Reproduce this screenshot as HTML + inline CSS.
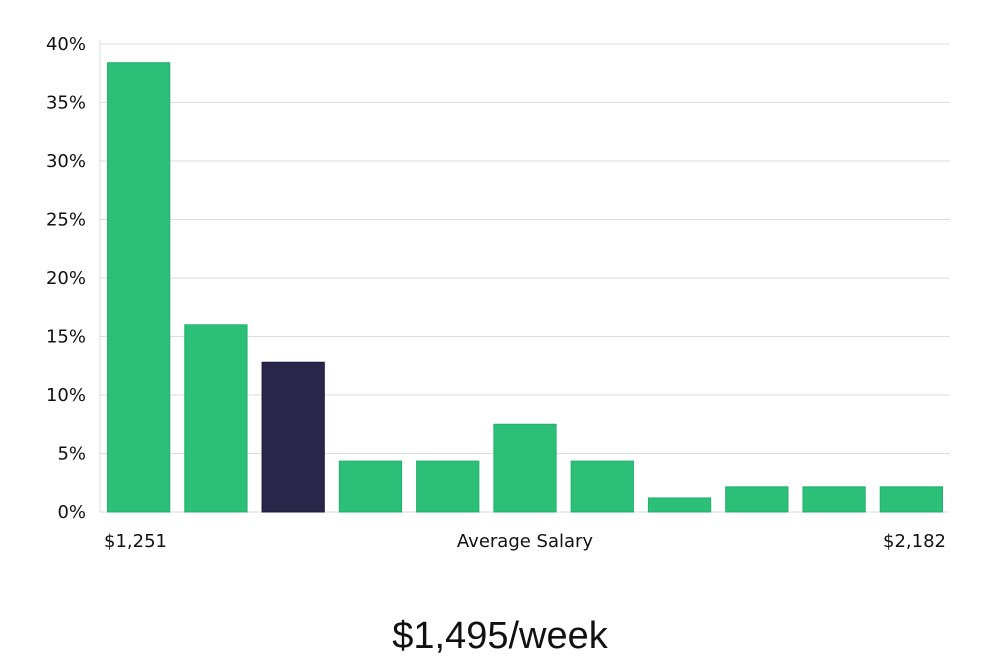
<!DOCTYPE html>
<html><head><meta charset="utf-8"><style>
body{margin:0;background:#fff;width:1000px;height:660px;overflow:hidden}
svg text{font-family:"DejaVu Sans","Liberation Sans",sans-serif;fill:#111}
</style></head><body>
<svg id="chart" width="1000" height="660" xmlns="http://www.w3.org/2000/svg">
<g id="grid"></g>
<g id="bars"></g>
<g id="yticks"></g>
<line x1="100" y1="40" x2="100" y2="512" stroke="#ddd"/>
<text x="104" y="547" font-size="18">$1,251</text>
<text x="525" y="547" font-size="18" text-anchor="middle">Average Salary</text>
<text x="946" y="547" font-size="18" text-anchor="end">$2,182</text>
<text x="500" y="648" font-size="38" text-anchor="middle" style="font-family:'Liberation Sans','DejaVu Sans',sans-serif">$1,495/week</text>
</svg>
<script>
const categories=["b1","b2","b3","b4","b5","b6","b7","b8","b9","b10","b11"];
const values=[38.4,16.0,12.8,4.35,4.35,7.5,4.35,1.2,2.15,2.15,2.15];
const highlight=[2];
const yTicks=[0,5,10,15,20,25,30,35,40];
const NS="http://www.w3.org/2000/svg";
const x0=100,x1=950,y0=512,y1=44,yMax=40;
const y=v=>y0-(v/yMax)*(y0-y1);
const band=(x1-x0)/categories.length;
const x=i=>x0+i*band;
const grid=document.getElementById('grid'),yt=document.getElementById('yticks'),bars=document.getElementById('bars');
yTicks.forEach(t=>{
 const l=document.createElementNS(NS,'line');
 
 
 l.setAttribute('x1',x0);l.setAttribute('x2',x1);l.setAttribute('y1',y(t));l.setAttribute('y2',y(t));
 l.setAttribute('stroke','#ddd');grid.appendChild(l);
 const tx=document.createElementNS(NS,'text');
 
 
 tx.setAttribute('x',86);tx.setAttribute('y',y(t)+6);tx.setAttribute('text-anchor','end');tx.setAttribute('font-size','18');
 tx.textContent=t+'%';yt.appendChild(tx);
});
values.forEach((v,i)=>{
 const r=document.createElementNS(NS,'rect');
 
 
 const hl=highlight.includes(i);
 r.setAttribute('x',x(i)+7.5);r.setAttribute('width',band-15);
 r.setAttribute('y',y(v));r.setAttribute('height',y0-y(v));
 r.setAttribute('fill',hl?'#2a2649':'#2bbf77');r.setAttribute('stroke',hl?'#1f1a40':'#22b06c');
 bars.appendChild(r);
});
</script>
</body></html>
